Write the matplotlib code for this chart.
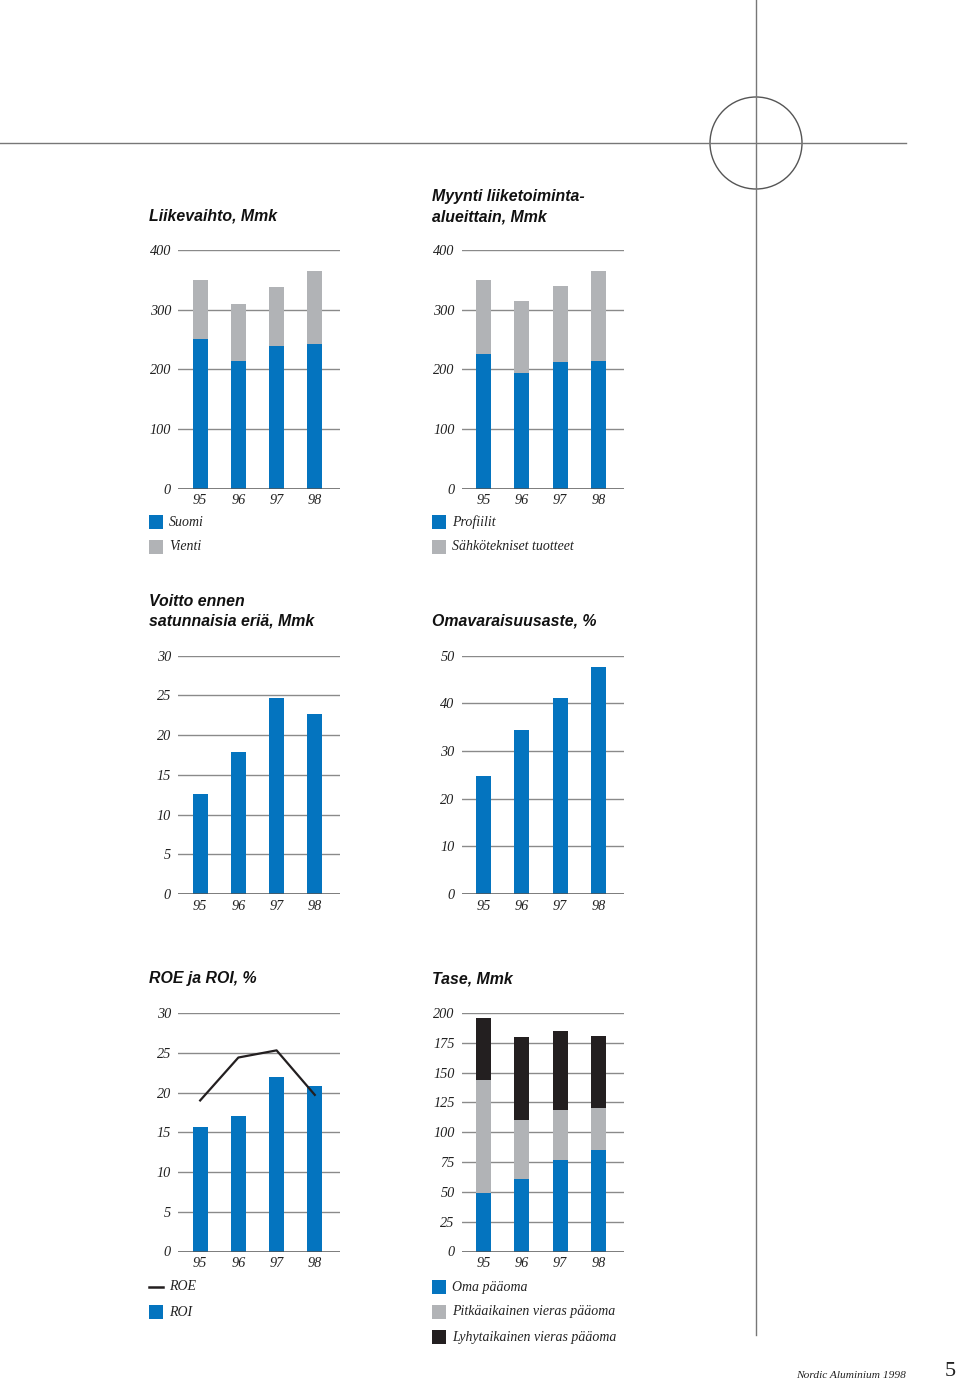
import matplotlib
matplotlib.use("Agg")
import matplotlib.pyplot as plt
from matplotlib.patches import Circle, Rectangle

vuodet = ["95", "96", "97", "98"]

# Liikevaihto, Mmk
suomi = [250, 214, 239, 243]
vienti = [99, 96, 99, 121]

# Myynti liiketoiminta-alueittain, Mmk
profiilit = [225, 194, 212, 214]
sahko = [125, 120, 127, 150]

# Voitto ennen satunnaisia eriä, Mmk
voitto = [12.6, 17.8, 24.6, 22.6]

# Omavaraisuusaste, %
omavar = [24.7, 34.4, 41.1, 47.5]

# ROE ja ROI, %
roe = [19.0, 24.4, 25.3, 19.7]
roi = [15.6, 17.1, 22.0, 20.8]

# Tase, Mmk
oma = [49, 61, 77, 85]
pitka = [95, 49, 42, 35]
lyhyt = [52, 70, 66, 61]

SININEN = "#0474bf"
HARMAA = "#b1b3b6"
MUSTA = "#231f20"

W, H = 960, 1380
fig = plt.figure(figsize=(9.6, 13.8), dpi=100)

serif = "Liberation Serif"
sans = "Liberation Sans"

# taustakerros pikseleinä
bg = fig.add_axes([0, 0, 1, 1])
bg.set_xlim(0, W)
bg.set_ylim(H, 0)
bg.axis("off")
bg.plot([0, 906], [143, 143], color="#777777", lw=1)
bg.plot([756, 756], [0, 1335], color="#777777", lw=1)
bg.add_patch(Circle((756, 143), 46, fill=False, ec="#555555", lw=1))


def kaavio(x0, y0, y1, ymax, step):
    x1 = x0 + 162
    ax = fig.add_axes([x0 / W, 1 - y1 / H, (x1 - x0) / W, (y1 - y0) / H])
    ax.set_xlim(-0.58, 3.66)
    ax.set_ylim(0, ymax)
    for s in ax.spines.values():
        s.set_visible(False)
    ticks = list(range(0, ymax + 1, step))
    ax.set_yticks(ticks)
    ax.set_yticklabels([str(t) for t in ticks], fontfamily=serif, fontstyle="italic", fontsize=10.3, color="#222222")
    ax.set_xticks(range(4))
    ax.set_xticklabels(vuodet, fontfamily=serif, fontstyle="italic", fontsize=10.3, color="#222222")
    ax.tick_params(length=0)
    ax.tick_params(axis="y", pad=5)
    ax.tick_params(axis="x", pad=4)
    for t in ticks[1:]:
        ax.axhline(t, color="#8a8a8a", lw=1, zorder=0)
    ax.axhline(0, color="#555555", lw=1.8, zorder=3)
    ax.patch.set_alpha(0)
    return ax


def otsikko(x, y, rivit):
    for i, r in enumerate(rivit):
        bg.text(x, y + i * 20, r, fontfamily=sans, fontweight="bold", fontstyle="italic",
                fontsize=11.4, va="center", ha="left", color="#111111")


def selite(x, y, teksti, vari, viiva=False):
    if viiva:
        bg.plot([x, x + 14], [y, y], color=vari, lw=1.8)
    else:
        bg.add_patch(Rectangle((x, y - 7), 14, 14, color=vari, lw=0))
    bg.text(x + 20, y, teksti, fontfamily=serif, fontstyle="italic", fontsize=10,
            va="center", ha="left", color="#222222")


bw = 0.39
xs = range(4)

# 1
ax1 = kaavio(178, 250, 488.5, 400, 100)
ax1.bar(xs, suomi, bw, color=SININEN, zorder=2)
ax1.bar(xs, vienti, bw, bottom=suomi, color=HARMAA, zorder=2)
otsikko(149, 216, ["Liikevaihto, Mmk"])
selite(149, 522, "Suomi", SININEN)
selite(149, 547, "Vienti", HARMAA)

# 2
ax2 = kaavio(461.5, 250, 488.5, 400, 100)
ax2.bar(xs, profiilit, bw, color=SININEN, zorder=2)
ax2.bar(xs, sahko, bw, bottom=profiilit, color=HARMAA, zorder=2)
otsikko(432, 197, ["Myynti liiketoiminta-", "alueittain, Mmk"])
selite(432, 522, "Profiilit", SININEN)
selite(432, 547, "Sähkötekniset tuotteet", HARMAA)

# 3
ax3 = kaavio(178, 655.5, 894, 30, 5)
ax3.bar(xs, voitto, bw, color=SININEN, zorder=2)
otsikko(149, 601, ["Voitto ennen", "satunnaisia eriä, Mmk"])

# 4
ax4 = kaavio(461.5, 655.5, 894, 50, 10)
ax4.bar(xs, omavar, bw, color=SININEN, zorder=2)
otsikko(432, 621, ["Omavaraisuusaste, %"])

# 5
ax5 = kaavio(178, 1013, 1251.5, 30, 5)
ax5.bar(xs, roi, bw, color=SININEN, zorder=2)
ax5.plot(xs, roe, color=MUSTA, lw=1.6, zorder=4, clip_on=False)
otsikko(149, 979, ["ROE ja ROI, %"])
selite(149, 1287, "ROE", MUSTA, viiva=True)
selite(149, 1312, "ROI", SININEN)

# 6
ax6 = kaavio(461.5, 1013, 1251.5, 200, 25)
ax6.bar(xs, oma, bw, color=SININEN, zorder=2)
ax6.bar(xs, pitka, bw, bottom=oma, color=HARMAA, zorder=2)
ala = [a + b for a, b in zip(oma, pitka)]
ax6.bar(xs, lyhyt, bw, bottom=ala, color=MUSTA, zorder=2)
otsikko(432, 979, ["Tase, Mmk"])
selite(432, 1287, "Oma pääoma", SININEN)
selite(432, 1312, "Pitkäaikainen vieras pääoma", HARMAA)
selite(432, 1337, "Lyhytaikainen vieras pääoma", MUSTA)

bg.text(906, 1376, "Nordic Aluminium 1998", fontfamily=serif, fontstyle="italic",
        fontsize=8.2, ha="right", va="center", color="#222222")
bg.text(956, 1372, "5", fontfamily=serif, fontsize=16, ha="right", va="center", color="#222222")

fig.savefig("out.png", dpi=100)
